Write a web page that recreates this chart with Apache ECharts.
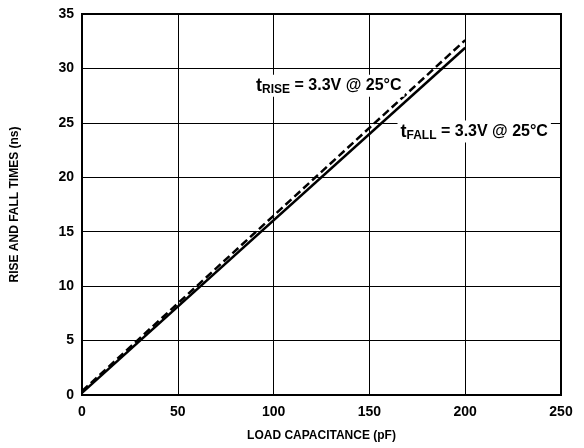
<!DOCTYPE html>
<html><head><meta charset="utf-8">
<script src="https://cdn.jsdelivr.net/npm/echarts@6/dist/echarts.min.js"></script>
<style>html,body{margin:0;padding:0;background:#fff}#c{width:584px;height:448px}</style>
</head><body><div id="c"></div>
<script>
var xTicks = [0, 50, 100, 150, 200, 250];
var capacitance = [0, 200];
var riseTimes = [0.35, 32.6];
var fallTimes = [0.2, 31.9];
var riseLabelAt = [128.8, 28.4];
var fallLabelAt = [204.7, 24.2];

var font = 'Liberation Sans, Arial, sans-serif';
var rich = {
  t: {fontSize: 18, fontWeight: 'bold', fontFamily: font, color: '#000'},
  s: {fontSize: 12, fontWeight: 'bold', fontFamily: font, color: '#000', padding: [8, 0, 0, 0]},
  m: {fontSize: 16, fontWeight: 'bold', fontFamily: font, color: '#000'}
};
function mk(coord, sub) {
  return {
    symbol: 'rect', symbolSize: 1, silent: true,
    itemStyle: {color: 'rgba(0,0,0,0)'},
    data: [{coord: coord}],
    label: {show: true, position: 'inside', backgroundColor: '#fff', padding: [1, 3, 1, 3],
      formatter: '{t|t}{s|' + sub + '}{m| = 3.3V @ 25°C}', rich: rich}
  };
}
var chart = echarts.init(document.getElementById('c'));
chart.setOption({
  animation: false,
  grid: {left: 82, right: 23, top: 14, bottom: 53, show: true, borderColor: '#000', borderWidth: 2},
  xAxis: {
    type: 'value', min: 0, max: 250, interval: 50,
    name: 'LOAD CAPACITANCE (pF)', nameLocation: 'middle', nameGap: 35,
    nameTextStyle: {fontSize: 12, fontWeight: 'bold', fontFamily: font, color: '#000'},
    axisLine: {show: true, lineStyle: {color: '#000', width: 2}},
    axisTick: {show: false},
    axisLabel: {fontSize: 14, fontWeight: 'bold', fontFamily: font, color: '#000', margin: 10},
    splitLine: {show: true, lineStyle: {color: '#000', width: 1}}
  },
  yAxis: {
    type: 'value', min: 0, max: 35, interval: 5,
    name: 'RISE AND FALL TIMES (ns)', nameLocation: 'middle', nameGap: 61,
    nameTextStyle: {fontSize: 12, fontWeight: 'bold', fontFamily: font, color: '#000'},
    axisLine: {show: true, lineStyle: {color: '#000', width: 2}},
    axisTick: {show: false},
    axisLabel: {fontSize: 14, fontWeight: 'bold', fontFamily: font, color: '#000', margin: 8},
    splitLine: {show: true, lineStyle: {color: '#000', width: 1}}
  },
  series: [
    {type: 'line', name: 'tRISE', symbol: 'none', data: capacitance.map(function (x, i) { return [x, riseTimes[i]]; }),
     lineStyle: {color: '#000', width: 2.5, type: [8, 4]}, z: 3, markPoint: mk(riseLabelAt, 'RISE')},
    {type: 'line', name: 'tFALL', symbol: 'none', data: capacitance.map(function (x, i) { return [x, fallTimes[i]]; }),
     lineStyle: {color: '#000', width: 2.5}, z: 3, markPoint: mk(fallLabelAt, 'FALL')}
  ]
});
</script></body></html>
